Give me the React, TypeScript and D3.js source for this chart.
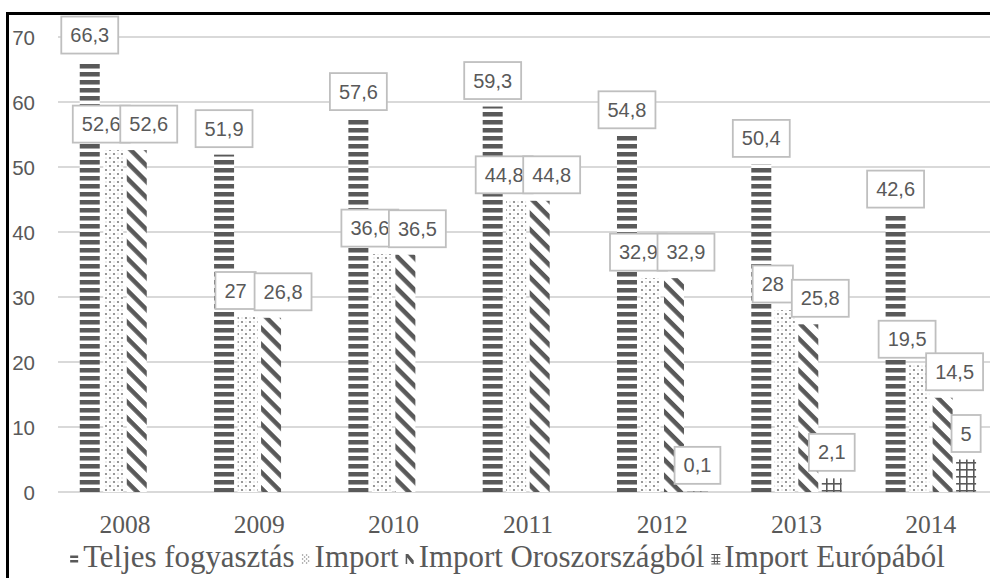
import React, { useEffect, useRef } from 'react';
import * as d3 from 'd3';

const YEARS = ['2008', '2009', '2010', '2011', '2012', '2013', '2014'];
const SERIES = ['Teljes fogyasztás', 'Import', 'Import Oroszországból', 'Import Európából'];
const TELJES = [66.3, 51.9, 57.6, 59.3, 54.8, 50.4, 42.6];
const IMPORT = [52.6, 27, 36.6, 44.8, 32.9, 28, 19.5];
const OROSZ = [52.6, 26.8, 36.5, 44.8, 32.9, 25.8, 14.5];
const EUROPA: (number | null)[] = [null, null, null, null, 0.1, 2.1, 5];
const Y_TICKS = [0, 10, 20, 30, 40, 50, 60, 70];

const DARK = '#595959';
const TEXT = '#595959';
const GRID = '#d9d9d9';
const LABEL_FONT = '"Liberation Sans", Arial, sans-serif';
const SERIF = '"Liberation Serif", Tinos, "Times New Roman", "DejaVu Serif", "Noto Serif", serif';

const fmt = (v: number) => String(v).replace('.', ',');

export default function App() {
  const ref = useRef<SVGSVGElement | null>(null);

  useEffect(() => {
    const svg = d3.select(ref.current);
    svg.selectAll('*').remove();
    const W = 990;

    const defs = svg.append('defs');
    const p1 = defs.append('pattern').attr('id', 'pT').attr('patternUnits', 'userSpaceOnUse').attr('width', 8).attr('height', 8);
    p1.append('rect').attr('width', 8).attr('height', 8).attr('fill', '#fff');
    p1.append('rect').attr('y', 0).attr('width', 8).attr('height', 4).attr('fill', DARK);
    p1.append('rect').attr('y', 4).attr('width', 8).attr('height', 1).attr('fill', '#a6a6a6');
    const p2 = defs.append('pattern').attr('id', 'pI').attr('patternUnits', 'userSpaceOnUse').attr('width', 8).attr('height', 8);
    p2.append('rect').attr('width', 8).attr('height', 8).attr('fill', '#fff');
    p2.append('circle').attr('cx', 2).attr('cy', 2).attr('r', 1.1).attr('fill', '#7f7f7f');
    p2.append('circle').attr('cx', 6).attr('cy', 6).attr('r', 1.1).attr('fill', '#7f7f7f');
    p2.append('circle').attr('cx', 6).attr('cy', 2).attr('r', 0.7).attr('fill', '#cfcfcf');
    p2.append('circle').attr('cx', 2).attr('cy', 6).attr('r', 0.7).attr('fill', '#cfcfcf');
    const p3 = defs.append('pattern').attr('id', 'pO').attr('patternUnits', 'userSpaceOnUse').attr('width', 11.3).attr('height', 11.3).attr('patternTransform', 'rotate(45)');
    p3.append('rect').attr('width', 11.3).attr('height', 11.3).attr('fill', '#fff');
    p3.append('rect').attr('width', 11.3).attr('height', 4.5).attr('fill', DARK);
    const p4 = defs.append('pattern').attr('id', 'pE').attr('patternUnits', 'userSpaceOnUse').attr('width', 7).attr('height', 7);
    p4.append('rect').attr('width', 7).attr('height', 7).attr('fill', '#fff');
    p4.append('rect').attr('width', 1.6).attr('height', 7).attr('fill', DARK);
    p4.append('rect').attr('width', 7).attr('height', 1.6).attr('fill', DARK);

    const fills = ['url(#pT)', 'url(#pI)', 'url(#pO)', 'url(#pE)'];
    const data = [TELJES, IMPORT, OROSZ, EUROPA];

    const x0 = d3.scaleBand().domain(YEARS).range([57.85, 998]).padding(0);
    const groupW = 90.5;
    const x1 = d3.scaleBand<number>().domain([0, 1, 2, 3]).range([0, groupW]).paddingInner(0.149).paddingOuter(0);
    const y = d3.scaleLinear().domain([0, 70]).range([492, 37]);
    const barX = (yi: number, si: number) => (x0(YEARS[yi]) as number) + (x0.bandwidth() - groupW) / 2 + (x1(si) as number);

    svg.append('g').selectAll('line').data(Y_TICKS).join('line')
      .attr('x1', 58).attr('x2', W).attr('y1', d => y(d)).attr('y2', d => y(d))
      .attr('stroke', GRID).attr('stroke-width', 1.8);
    svg.append('g').selectAll('text').data(Y_TICKS).join('text')
      .attr('x', 35).attr('y', d => y(d)).attr('text-anchor', 'end').attr('dominant-baseline', 'central')
      .attr('font-family', LABEL_FONT).attr('font-size', 20.5).attr('fill', TEXT).text(d => String(d));

    data.forEach((vals, si) => {
      svg.append('g').selectAll('rect').data(vals.map((v, i) => ({ v, i })).filter(d => d.v != null)).join('rect')
        .attr('x', d => barX(d.i, si)).attr('width', x1.bandwidth())
        .attr('y', d => y(d.v as number)).attr('height', d => y(0) - y(d.v as number))
        .attr('fill', fills[si]);
    });

    const measure = svg.append('text').attr('font-family', LABEL_FONT).attr('font-size', 20);
    type L = { si: number; yi: number; v: number; cx: number; w: number; bottom: number };
    const labels: L[] = [];
    data.forEach((vals, si) => vals.forEach((v, yi) => {
      if (v == null) return;
      measure.text(fmt(v));
      const tw = (measure.node() as SVGTextElement).getComputedTextLength();
      labels.push({ si, yi, v, cx: barX(yi, si) + x1.bandwidth() / 2, w: tw + 18, bottom: y(v) - 7.5 });
    }));
    measure.remove();
    const BH = 37;
    YEARS.forEach((_, yi) => {
      const g = labels.filter(l => l.yi === yi).sort((a, b) => a.si - b.si);
      for (let k = 0; k < g.length - 1; k++) {
        const a = g[k], b = g[k + 1];
        if (Math.abs(a.bottom - b.bottom) >= BH) continue;
        const ov = (a.cx + a.w / 2) - (b.cx - b.w / 2);
        if (ov > 0) {
          const s = Math.min(ov / 2, 12);
          a.cx -= s; b.cx += s;
        }
      }
    });
    const lg = svg.append('g');
    [0, 1, 2, 3].forEach(si => {
      labels.filter(l => l.si === si).forEach(l => {
        lg.append('rect').attr('x', l.cx - l.w / 2).attr('y', l.bottom - BH).attr('width', l.w).attr('height', BH)
          .attr('fill', '#fff').attr('stroke', '#bfbfbf').attr('stroke-width', 1.8);
        lg.append('text').attr('x', l.cx).attr('y', l.bottom - BH / 2).attr('text-anchor', 'middle')
          .attr('dominant-baseline', 'central').attr('font-family', LABEL_FONT).attr('font-size', 20)
          .attr('fill', TEXT).text(fmt(l.v));
      });
    });

    svg.append('g').selectAll('text').data(YEARS).join('text')
      .attr('x', d => (x0(d) as number) + x0.bandwidth() / 2).attr('y', 533).attr('text-anchor', 'middle')
      .attr('font-family', SERIF).attr('font-size', 25.5).attr('fill', TEXT).text(d => d);

    // legend: fit between x=70 and x=945
    const leg = svg.append('g');
    const symW = 8, gapST = 5, gapItem = 7;
    const left = 70, right = 945, base = 567;
    const texts = SERIES.map(s => {
      const t = leg.append('text').attr('y', base).attr('font-family', SERIF).attr('font-size', 26).attr('fill', TEXT).text(s);
      return { t, w: (t.node() as SVGTextElement).getComputedTextLength() };
    });
    const textTotal = d3.sum(texts, t => t.w);
    const fixed = texts.length * (symW + gapST) + gapItem * (texts.length - 1);
    const fs = Math.min(31, 26 * (right - left - fixed) / textTotal);
    texts.forEach(t => { t.t.attr('font-size', fs); t.w = (t.t.node() as SVGTextElement).getComputedTextLength(); });
    const total = d3.sum(texts, t => t.w) + fixed;
    let cx = (left + right) / 2 - total / 2;
    texts.forEach((t, si) => {
      const sg = leg.append('g').attr('transform', `translate(${cx},${base - 13})`);
      if (si === 0) {
        sg.append('rect').attr('x', 0).attr('y', 1.5).attr('width', 8).attr('height', 2.5).attr('fill', DARK);
        sg.append('rect').attr('x', 0).attr('y', 6).attr('width', 8).attr('height', 2.5).attr('fill', DARK);
      } else if (si === 1) {
        [[1, 1], [5, 1], [3, 3], [1, 5], [5, 5], [3, 7], [7, 3], [7, 7], [1, 9], [5, 9]].forEach(([a, b]) =>
          sg.append('circle').attr('cx', a).attr('cy', b).attr('r', 0.8).attr('fill', '#8c8c8c'));
      } else if (si === 2) {
        sg.append('path').attr('d', 'M0,0 L2.5,0 L8,6.5 L8,10 L6.5,10 L1.5,3.5 L1.5,10 L0,10 Z').attr('fill', DARK);
      } else {
        sg.append('path').attr('d', 'M0,0.5 H9 M0,4 H9 M0,7.5 H9 M0,10 H9 M3,0 V10 M6,0 V10')
          .attr('stroke', DARK).attr('stroke-width', 1).attr('fill', 'none');
      }
      t.t.attr('x', cx + symW + gapST);
      cx += symW + gapST + t.w + gapItem;
    });

    svg.append('path').attr('d', 'M7.5,580 V13.5 H992').attr('fill', 'none').attr('stroke', '#000').attr('stroke-width', 3);
  }, []);

  return (
    <svg ref={ref} width={990} height={578} style={{ position: 'absolute', left: 0, top: 0, background: '#fff' }} />
  );
}
